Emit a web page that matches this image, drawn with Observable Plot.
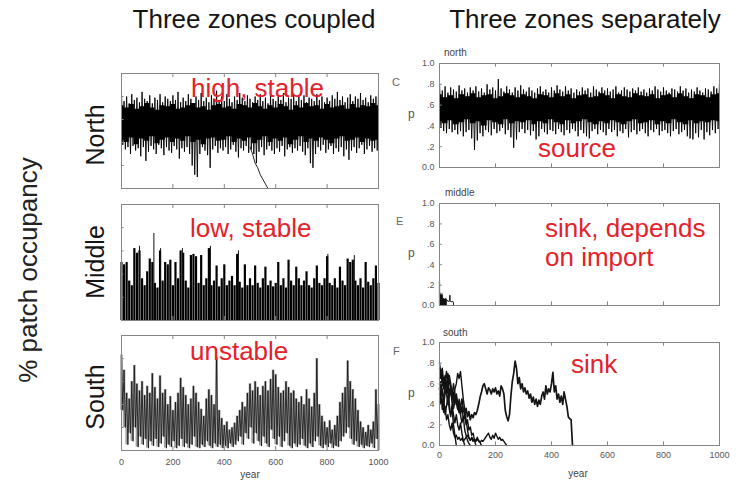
<!DOCTYPE html>
<html><head><meta charset="utf-8">
<script src="https://cdn.jsdelivr.net/npm/d3@7"></script>
<script src="https://cdn.jsdelivr.net/npm/@observablehq/plot@0.6"></script>
<style>
body{margin:0;background:#fff;}
#root{position:relative;width:741px;height:481px;overflow:hidden;font-family:"Liberation Sans",Arial,sans-serif;}
.t{position:absolute;white-space:nowrap;line-height:1;}
</style></head><body><div id="root"></div>
<script>
// ---------- data ----------
const xTicks = [0, 200, 400, 600, 800, 1000];
const yTicks = [0, 0.2, 0.4, 0.6, 0.8, 1];
const yTickLabels = ["0.0", ".2", ".4", ".6", ".8", "1.0"];
const years10 = d3.range(0, 1001, 10);   // sample years, every 10 years
const years20 = d3.range(0, 1001, 20);   // core band, every 20 years
const years5 = d3.range(0, 1001, 5);

// Coupled, North: upper spikes (years 0..1000) and lower spikes (years 5..995)
const northCoupledHi = [0.83,0.76,0.8,0.74,0.82,0.77,0.79,0.75,0.84,0.78,
 0.76,0.81,0.74,0.79,0.77,0.82,0.75,0.8,0.78,0.76,
 0.81,0.77,0.84,0.75,0.79,0.76,0.82,0.78,0.74,0.8,
 0.77,0.83,0.76,0.79,0.75,0.81,0.78,0.85,0.77,0.8,
 0.76,0.82,0.78,0.75,0.8,0.77,0.83,0.79,0.76,0.81,
 0.78,0.75,0.8,0.77,0.82,0.76,0.79,0.74,0.81,0.78,
 0.76,0.8,0.77,0.83,0.75,0.79,0.78,0.82,0.76,0.8,
 0.77,0.81,0.75,0.79,0.78,0.76,0.82,0.77,0.8,0.75,
 0.79,0.76,0.81,0.78,0.84,0.77,0.8,0.75,0.79,0.82,
 0.76,0.8,0.78,0.83,0.77,0.79,0.75,0.81,0.78,0.8,0.84];
const northCoupledLo = [0.38,0.34,0.36,0.3,0.37,0.33,0.35,0.28,0.36,0.24,
 0.32,0.37,0.34,0.3,0.38,0.35,0.29,0.36,0.33,0.31,
 0.37,0.34,0.26,0.35,0.32,0.36,0.3,0.2,0.12,0.1,
 0.3,0.36,0.33,0.29,0.18,0.34,0.37,0.31,0.35,0.33,
 0.36,0.3,0.34,0.38,0.32,0.27,0.35,0.33,0.37,0.31,
 0.34,0.3,0.22,0.32,0.36,0.29,0.34,0.37,0.33,0.3,
 0.35,0.32,0.37,0.28,0.34,0.36,0.31,0.35,0.33,0.37,
 0.32,0.29,0.35,0.22,0.18,0.3,0.36,0.33,0.38,0.31,
 0.34,0.37,0.3,0.35,0.32,0.36,0.28,0.34,0.25,0.33,
 0.36,0.31,0.35,0.38,0.3,0.34,0.37,0.32,0.35,0.33];
const northCoupledCoreHi = [0.72,0.7,0.73,0.69,0.71,0.74,0.7,0.68,0.72,0.71,
 0.73,0.69,0.7,0.72,0.74,0.7,0.71,0.68,0.72,0.73,
 0.7,0.71,0.69,0.73,0.72,0.7,0.74,0.71,0.69,0.72,
 0.7,0.73,0.71,0.68,0.72,0.7,0.74,0.71,0.72,0.69,
 0.73,0.7,0.71,0.72,0.69,0.73,0.7,0.72,0.71,0.74,0.72];
const northCoupledCoreLo = [0.42,0.4,0.44,0.38,0.43,0.41,0.45,0.39,0.42,0.44,
 0.4,0.43,0.41,0.45,0.4,0.42,0.38,0.43,0.44,0.41,
 0.42,0.45,0.4,0.43,0.41,0.44,0.39,0.42,0.45,0.4,
 0.43,0.41,0.44,0.38,0.42,0.45,0.4,0.43,0.41,0.44,
 0.42,0.39,0.43,0.45,0.41,0.42,0.44,0.4,0.43,0.41,0.42];
const northCoupledExtYears = [500, 510, 520, 530, 540, 550, 560, 570];
const northCoupledExtP = [0.36, 0.3, 0.22, 0.18, 0.12, 0.08, 0.04, 0.0];

// Coupled, Middle: bar tops (years 0..1000) and thin spikes
const middleCoupledHi = [0.5,0.48,0.5,0.34,0.3,0.62,0.58,0.6,0.36,0.3,
 0.42,0.53,0.5,0.32,0.28,0.6,0.34,0.5,0.48,0.52,
 0.3,0.5,0.36,0.6,0.58,0.34,0.28,0.56,0.57,0.55,
 0.32,0.56,0.3,0.36,0.62,0.3,0.34,0.47,0.29,0.36,
 0.48,0.3,0.34,0.38,0.3,0.57,0.33,0.28,0.48,0.3,
 0.36,0.3,0.47,0.32,0.28,0.36,0.46,0.3,0.34,0.29,
 0.32,0.5,0.3,0.36,0.28,0.52,0.34,0.3,0.46,0.36,
 0.3,0.34,0.42,0.3,0.28,0.36,0.47,0.32,0.3,0.36,
 0.55,0.32,0.3,0.36,0.28,0.46,0.34,0.3,0.53,0.5,
 0.52,0.34,0.3,0.36,0.28,0.5,0.33,0.3,0.36,0.47,0.32];
const middleCoupledSpikeYears = [70, 126, 152, 237, 346, 455, 803, 906];
const middleCoupledSpikeP = [0.64, 0.75, 0.62, 0.62, 0.64, 0.6, 0.57, 0.56];

// Coupled, South: upper (years 0..1000) and lower (years 5..995) excursions
const southCoupledHi = [0.83,0.7,0.5,0.45,0.6,0.74,0.58,0.52,0.6,0.48,
 0.56,0.5,0.67,0.55,0.45,0.65,0.5,0.53,0.4,0.47,
 0.35,0.42,0.5,0.63,0.55,0.48,0.4,0.45,0.56,0.5,
 0.42,0.36,0.3,0.45,0.53,0.48,0.4,0.81,0.35,0.28,
 0.22,0.25,0.18,0.2,0.24,0.3,0.35,0.42,0.38,0.5,
 0.58,0.52,0.6,0.55,0.48,0.56,0.6,0.52,0.62,0.7,
 0.66,0.55,0.5,0.52,0.6,0.55,0.5,0.52,0.45,0.42,
 0.47,0.4,0.53,0.45,0.38,0.5,0.8,0.4,0.3,0.25,
 0.2,0.26,0.18,0.22,0.3,0.42,0.5,0.55,0.78,0.6,
 0.53,0.45,0.35,0.25,0.2,0.16,0.22,0.18,0.25,0.53,0.4];
const southCoupledLo = [0.35,0.2,0.05,0.15,0.08,0.2,0.03,0.12,0.05,0.1,
 0.02,0.08,0.04,0.1,0.03,0.06,0.12,0.02,0.05,0.03,
 0.08,0.02,0.04,0.1,0.03,0.06,0.02,0.05,0.12,0.03,
 0.02,0.05,0.03,0.08,0.04,0.02,0.06,0.03,0.05,0.02,
 0.04,0.02,0.06,0.03,0.05,0.08,0.12,0.05,0.15,0.1,
 0.2,0.06,0.15,0.08,0.04,0.12,0.06,0.03,0.18,0.1,
 0.05,0.12,0.03,0.08,0.15,0.04,0.02,0.06,0.03,0.05,
 0.1,0.04,0.02,0.06,0.03,0.08,0.12,0.04,0.02,0.05,
 0.03,0.06,0.02,0.04,0.03,0.08,0.12,0.15,0.2,0.1,
 0.05,0.08,0.03,0.05,0.02,0.04,0.03,0.06,0.02,0.1];

// Separately, North
const northSepHi = [0.83,0.74,0.78,0.72,0.77,0.75,0.73,0.79,0.74,0.76,
 0.72,0.77,0.74,0.78,0.73,0.76,0.72,0.8,0.75,0.77,
 0.74,0.85,0.76,0.73,0.78,0.75,0.72,0.77,0.74,0.79,
 0.75,0.73,0.77,0.74,0.72,0.76,0.78,0.73,0.75,0.72,
 0.77,0.74,0.79,0.75,0.73,0.78,0.74,0.76,0.72,0.75,
 0.73,0.77,0.74,0.76,0.72,0.78,0.75,0.73,0.77,0.74,
 0.76,0.73,0.75,0.78,0.72,0.74,0.77,0.75,0.73,0.76,
 0.74,0.77,0.73,0.75,0.72,0.76,0.74,0.78,0.75,0.73,
 0.77,0.74,0.72,0.76,0.75,0.73,0.78,0.74,0.76,0.72,
 0.75,0.73,0.77,0.74,0.72,0.76,0.75,0.73,0.78,0.76,0.83];
const northSepLo = [0.38,0.35,0.33,0.37,0.34,0.36,0.32,0.35,0.3,0.34,
 0.36,0.28,0.17,0.26,0.33,0.3,0.36,0.34,0.31,0.37,
 0.33,0.35,0.38,0.32,0.36,0.29,0.19,0.27,0.34,0.37,
 0.33,0.36,0.31,0.35,0.27,0.3,0.37,0.34,0.32,0.36,
 0.35,0.32,0.37,0.34,0.31,0.36,0.33,0.37,0.35,0.3,
 0.36,0.33,0.3,0.28,0.35,0.37,0.32,0.36,0.34,0.31,
 0.37,0.34,0.36,0.3,0.35,0.33,0.37,0.29,0.34,0.36,
 0.32,0.35,0.37,0.33,0.3,0.36,0.34,0.37,0.31,0.35,
 0.36,0.33,0.3,0.35,0.37,0.32,0.34,0.36,0.3,0.28,
 0.27,0.33,0.29,0.36,0.27,0.34,0.31,0.36,0.33,0.37];
const northSepCoreHi = [0.7,0.67,0.69,0.66,0.7,0.68,0.71,0.67,0.69,0.7,
 0.66,0.68,0.71,0.69,0.67,0.7,0.68,0.66,0.7,0.69,
 0.67,0.71,0.68,0.7,0.66,0.69,0.7,0.67,0.68,0.71,
 0.69,0.66,0.7,0.68,0.67,0.71,0.69,0.68,0.7,0.66,
 0.69,0.7,0.67,0.71,0.68,0.66,0.7,0.69,0.67,0.7,0.71];
const northSepCoreLo = [0.44,0.42,0.45,0.41,0.43,0.46,0.42,0.44,0.4,0.45,
 0.43,0.41,0.46,0.42,0.44,0.43,0.45,0.41,0.44,0.42,
 0.46,0.43,0.41,0.45,0.42,0.44,0.46,0.43,0.41,0.44,
 0.42,0.45,0.43,0.41,0.44,0.46,0.42,0.43,0.45,0.41,
 0.44,0.42,0.46,0.43,0.41,0.45,0.42,0.44,0.43,0.45,0.44];

// Separately, Middle (years 0..50 every 2 years)
const middleSepYears = d3.range(0, 51, 2);
const middleSepP = [0.24,0.11,0.12,0.1,0.11,0.12,0.1,0.07,0.065,0.06,0.065,0.07,0.06,
 0.065,0.05,0.04,0.04,0.045,0.1,0.04,0.04,0.035,0.04,0.04,0.03,0.0];

// Separately, South: replicate runs, every 5 years until extinction
const southSepA = [0.55,0.62,0.5,0.45,0.58,0.52,0.4,0.48,0.55,0.42,
 0.36,0.45,0.5,0.4,0.32,0.38,0.45,0.35,0.3,0.36,
 0.28,0.33,0.25,0.3,0.27,0.32,0.3,0.34,0.4,0.47,
 0.52,0.58,0.6,0.55,0.5,0.56,0.54,0.5,0.55,0.52,
 0.56,0.5,0.53,0.48,0.58,0.55,0.5,0.34,0.28,0.24,
 0.3,0.48,0.62,0.7,0.82,0.75,0.6,0.66,0.55,0.6,
 0.52,0.56,0.5,0.53,0.46,0.5,0.42,0.47,0.4,0.45,
 0.38,0.44,0.4,0.48,0.52,0.45,0.58,0.5,0.55,0.52,
 0.6,0.71,0.52,0.58,0.45,0.5,0.42,0.48,0.4,0.52,
 0.45,0.38,0.28,0.26,0.25,0.0];
const southSepB = [0.75,0.65,0.7,0.55,0.62,0.72,0.6,0.5,0.58,0.45,0.52,0.4,0.48,0.35,
 0.42,0.3,0.38,0.25,0.3,0.2,0.25,0.15,0.18,0.1,0.12,0.05,0.0];
const southSepC = [0.6,0.48,0.55,0.4,0.5,0.62,0.55,0.68,0.6,0.5,0.42,0.55,0.6,0.7,0.65,
 0.72,0.58,0.45,0.35,0.25,0.15,0.08,0.05,0.07,0.04,0.06,0.05,0.08,0.04,0.03,0.0];
const southSepD = [0.42,0.5,0.35,0.45,0.3,0.38,0.48,0.35,0.28,0.4,0.3,0.22,0.3,0.2,
 0.15,0.22,0.12,0.05,0.0];
const southSepE = [0.5,0.4,0.45,0.32,0.38,0.25,0.3,0.2,0.15,0.22,0.12,0.08,0.1,0.06,0.08,
 0.05,0.07,0.04,0.06,0.08,0.1,0.07,0.05,0.08,0.06,0.05,0.04,0.06,0.05,0.03,0.05,0.04,
 0.06,0.08,0.1,0.12,0.08,0.06,0.1,0.07,0.12,0.09,0.06,0.08,0.05,0.06,0.04,0.02,0.0];
const southSepF = [0.8,0.7,0.75,0.6,0.68,0.5,0.55,0.4,0.3,0.35,0.2,0.1,0.0];
const southSepG = [0.65,0.72,0.58,0.66,0.52,0.6,0.7,0.62,0.55,0.48,0.6,0.5,0.42,0.35,0.45,
 0.3,0.22,0.28,0.15,0.1,0.05,0.02,0.0];

// ---------- helpers ----------
const root = document.getElementById("root");
const FONT = "'Liberation Sans', Arial, sans-serif";
const frameColor = "#858585";
const yLab = new Map(yTicks.map((d, i) => [d, yTickLabels[i]]));

function zig(hi, lo) {
  const r = [];
  hi.forEach((h, i) => {
    r.push({x: years10[i], y: h});
    if (i < lo.length) r.push({x: years10[i] + 5, y: lo[i]});
  });
  return r;
}
function band(lo, hi) { return years20.map((x, i) => ({x, lo: lo[i], hi: hi[i]})); }
function run(arr) { return arr.map((p, i) => ({x: years5[i], y: p})); }

function inner() {
  return [
    Plot.ruleX(xTicks, {x: d => d, y1: 0, y2: 0.035, stroke: frameColor}),
    Plot.ruleX(xTicks, {x: d => d, y1: 1, y2: 0.965, stroke: frameColor}),
    Plot.ruleY(yTicks, {y: d => d, x1: 0, x2: 10, stroke: frameColor}),
    Plot.frame({stroke: frameColor})
  ];
}

function mk({w, h, mL, mR, mT, mB, marks, xAxis = false, yAxis = false, pad = 6}) {
  return Plot.plot({
    width: w, height: h,
    marginLeft: mL, marginRight: mR, marginTop: mT, marginBottom: mB,
    style: {background: "transparent", fontFamily: FONT, fontSize: "9px", color: "#555", overflow: "visible"},
    x: xAxis ? {domain: [0, 1000], ticks: xTicks, tickSize: 0, tickPadding: pad, label: null, tickFormat: d => String(d)} : {domain: [0, 1000], axis: null},
    y: yAxis ? {domain: [0, 1], ticks: yTicks, tickSize: 0, tickPadding: 5, label: null, tickFormat: d => yLab.get(d)} : {domain: [0, 1], axis: null},
    marks
  });
}
function place(svg, left, top) {
  svg.style.position = "absolute";
  svg.style.left = left + "px";
  svg.style.top = top + "px";
  root.appendChild(svg);
}
function text(str, x, baseline, fs, color, anchor = "start") {
  const d = document.createElement("div");
  d.className = "t";
  d.textContent = str;
  d.style.fontSize = fs + "px";
  d.style.color = color;
  d.style.left = x + "px";
  d.style.top = (baseline - 0.8465 * fs) + "px";
  if (anchor === "middle") d.style.transform = "translateX(-50%)";
  root.appendChild(d);
}
function vtext(str, cx, cy, fs, color) {
  const d = document.createElement("div");
  d.className = "t";
  d.textContent = str;
  d.style.fontSize = fs + "px";
  d.style.color = color;
  d.style.left = cx + "px";
  d.style.top = cy + "px";
  d.style.transform = "translate(-50%,-50%) rotate(-90deg)";
  root.appendChild(d);
}

// ---------- coupled column ----------
place(mk({w: 265, h: 123, mL: 4, mR: 4, mT: 4, mB: 4, marks: [
  Plot.areaY(band(northCoupledCoreLo, northCoupledCoreHi), {x: "x", y1: "lo", y2: "hi", fill: "#000", curve: "step"}),
  Plot.line(zig(northCoupledHi, northCoupledLo), {x: "x", y: "y", stroke: "#000", strokeWidth: 0.9}),
  Plot.line(northCoupledExtYears.map((x, i) => ({x, y: northCoupledExtP[i]})), {x: "x", y: "y", stroke: "#222", strokeWidth: 1}),
  ...inner()
]}), 117, 69);

place(mk({w: 265, h: 124, mL: 4, mR: 4, mT: 4, mB: 4, marks: [
  Plot.ruleX(years10.map((x, i) => ({x, y: middleCoupledHi[i]})), {x: "x", y1: 0, y2: "y", stroke: "#000", strokeWidth: 2.2}),
  Plot.ruleX(middleCoupledSpikeYears.map((x, i) => ({x, y: middleCoupledSpikeP[i]})), {x: "x", y1: 0, y2: "y", stroke: "#111", strokeWidth: 1}),
  ...inner()
]}), 117, 200);

place(mk({w: 265, h: 145, mL: 4, mR: 4, mT: 4, mB: 26, xAxis: true, pad: 8, marks: [
  Plot.ruleX(years10.map((x, i) => ({x, hi: southCoupledHi[i], lo: i < southCoupledLo.length ? southCoupledLo[i] : 0})), {x: "x", y1: "lo", y2: "hi", stroke: "#555", strokeOpacity: 0.55, strokeWidth: 2.6}),
  Plot.line(zig(southCoupledHi, southCoupledLo), {x: "x", y: "y", stroke: "#111", strokeWidth: 0.8}),
  ...inner()
]}), 117, 331);

// ---------- separate column ----------
place(mk({w: 316, h: 112, mL: 32, mR: 4, mT: 4, mB: 4, yAxis: true, marks: [
  Plot.areaY(band(northSepCoreLo, northSepCoreHi), {x: "x", y1: "lo", y2: "hi", fill: "#000", curve: "step"}),
  Plot.line(zig(northSepHi, northSepLo), {x: "x", y: "y", stroke: "#000", strokeWidth: 0.9}),
  ...inner()
]}), 407, 59);

place(mk({w: 316, h: 110, mL: 32, mR: 4, mT: 4, mB: 4, yAxis: true, marks: [
  Plot.areaY(middleSepYears.map((x, i) => ({x, y: middleSepP[i]})).filter(d => d.x <= 28), {x: "x", y: "y", curve: "step-after", fill: "#111"}),
  Plot.line(middleSepYears.map((x, i) => ({x, y: middleSepP[i]})).filter(d => d.x >= 28), {x: "x", y: "y", curve: "step-after", stroke: "#222", strokeWidth: 1}),
  Plot.ruleX([{x: 0, y: middleSepP[0]}], {x: "x", y1: 0, y2: "y", stroke: "#111", strokeWidth: 1.2}),
  ...inner()
]}), 407, 199);

const southRuns = [southSepB, southSepC, southSepD, southSepE, southSepF, southSepG];
place(mk({w: 316, h: 133, mL: 32, mR: 4, mT: 4, mB: 26, xAxis: true, yAxis: true, pad: 6, marks: [
  ...southRuns.map(r => Plot.line(run(r), {x: "x", y: "y", stroke: "#111", strokeWidth: 1.4})),
  Plot.line(run(southSepA), {x: "x", y: "y", stroke: "#151515", strokeWidth: 1.7}),
  ...inner()
]}), 407, 338);

// ---------- text ----------
const dark = "#151515", red = "#e5212a", gray = "#444";
text("Three zones coupled", 254, 28, 26, dark, "middle");
text("Three zones separately", 585, 28, 26, dark, "middle");
vtext("% patch occupancy", 28, 270, 26, "#222");
vtext("North", 95, 135, 25, dark);
vtext("Middle", 95, 262, 25, dark);
vtext("South", 95, 397, 25, dark);

text("high, stable", 191, 97, 26, red);
text("low, stable", 190, 237, 26, red);
text("unstable", 190, 360, 26, red);
text("source", 538, 157, 26, red);
text("sink, depends", 545, 237, 26, red);
text("on import", 545, 266, 26, red);
text("sink", 571, 373, 26, red);

text("north", 444, 56, 10, gray);
text("middle", 445, 196, 10, gray);
text("south", 443, 336, 10, gray);
text("p", 408, 118, 12, "#555");
text("p", 408, 257, 12, "#555");
text("p", 408, 397, 12, "#555");
text("C", 392, 86, 11, "#666");
text("E", 396, 225, 11, "#666");
text("F", 393, 355, 11, "#666");
text("year", 578, 477, 10, gray, "middle");
text("year", 250, 478, 10, gray, "middle");
</script></body></html>
